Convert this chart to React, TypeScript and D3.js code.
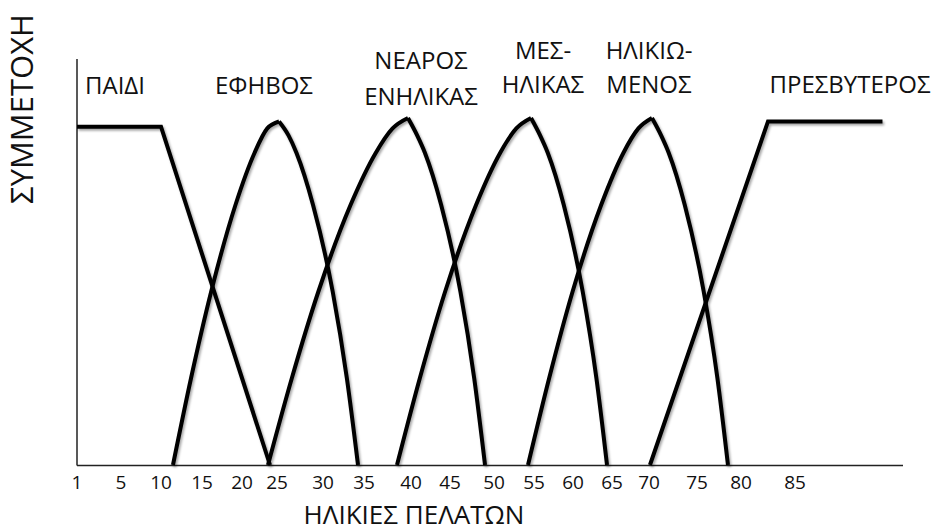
import React from 'react';
import * as d3 from 'd3';

// ---- data (age, membership) ----
const AGE_TICKS = [1, 5, 10, 15, 20, 25, 30, 35, 40, 45, 50, 55, 60, 65, 70, 75, 80, 85];
const Y_TITLE = 'ΣΥΜΜΕΤΟΧΗ';
const X_TITLE = 'ΗΛΙΚΙΕΣ ΠΕΛΑΤΩΝ';

const PAIDI: [number, number][] = [[1, 0.975], [10, 0.975], [24, 0]];
const EFIVOS: [number, number][] = [
  [11.46, 0], [13.66, 0.25], [16.15, 0.5], [19.19, 0.75], [21.8, 0.9], [23.61, 0.97], [25.22, 0.99],
  [26.25, 0.95], [27.11, 0.9], [28.91, 0.75], [31.18, 0.5], [32.91, 0.25], [34.27, 0],
];
const NEAROS: [number, number][] = [
  [23.71, 0], [26.61, 0.25], [29.5, 0.5], [33.37, 0.75], [36.26, 0.9], [38.04, 0.97], [39.68, 1.0],
  [40.79, 0.95], [41.78, 0.9], [43.86, 0.75], [46.18, 0.5], [47.75, 0.25], [48.98, 0],
];
const MESILIKAS: [number, number][] = [
  [38.51, 0], [41.13, 0.25], [44.38, 0.5], [47.97, 0.75], [50.78, 0.9], [52.79, 0.97], [54.63, 1.0],
  [55.78, 0.95], [56.76, 0.9], [58.81, 0.75], [61.24, 0.5], [63.0, 0.25], [64.36, 0],
];
const ILIKIOMENOS: [number, number][] = [
  [54.25, 0], [56.94, 0.25], [59.95, 0.5], [63.62, 0.75], [66.55, 0.9], [68.57, 0.97], [70.31, 1.0],
  [71.26, 0.95], [72.05, 0.9], [73.72, 0.75], [75.76, 0.5], [77.32, 0.25], [78.52, 0],
];
const PRESVYTEROS: [number, number][] = [[70.1, 0], [82.5, 0.99], [93.1, 0.99]];

const SERIES_NAMES = ['ΠΑΙΔΙ', 'ΕΦΗΒΟΣ', 'ΝΕΑΡΟΣ ΕΝΗΛΙΚΑΣ', 'ΜΕΣΗΛΙΚΑΣ', 'ΗΛΙΚΙΩΜΕΝΟΣ', 'ΠΡΕΣΒΥΤΕΡΟΣ'];
const SERIES_DATA = [PAIDI, EFIVOS, NEAROS, MESILIKAS, ILIKIOMENOS, PRESVYTEROS];
const SERIES_SMOOTH = [false, true, true, true, true, false];
const LABEL_LINES = [['ΠΑΙΔΙ'], ['ΕΦΗΒΟΣ'], ['ΝΕΑΡΟΣ', 'ΕΝΗΛΙΚΑΣ'], ['ΜΕΣ-', 'ΗΛΙΚΑΣ'], ['ΗΛΙΚΙΩ-', 'ΜΕΝΟΣ'], ['ΠΡΕΣΒΥΤΕΡΟΣ']];

// ---- layout ----
const W = 936;
const H = 532;
const TICK_X = [77, 121, 161, 202, 242, 277, 323, 364, 411, 450, 494, 534, 573, 612, 649, 697, 741, 795];
const LABEL_POS: [number, number, number][] = [
  [115, 94, 0], [264, 94, 0], [421, 69, 36], [543, 59, 34], [649, 59, 34], [850, 93, 0],
];
const FONT = "'Open Sans', 'DejaVu Sans', sans-serif";

export default function App() {
  const x = d3.scaleLinear().domain(AGE_TICKS).range(TICK_X);
  const y = d3.scaleLinear().domain([0, 1]).range([465, 118]);

  const line = d3.line<[number, number]>().x((d) => x(d[0])).y((d) => y(d[1]));
  const smoothLine = d3
    .line<[number, number]>()
    .x((d) => x(d[0]))
    .y((d) => y(d[1]))
    .curve(d3.curveMonotoneX);

  const paths: string[] = [];
  SERIES_DATA.forEach((pts, i) => {
    if (SERIES_SMOOTH[i]) {
      const peak = d3.maxIndex(pts, (d) => d[1]);
      paths.push(smoothLine(pts.slice(0, peak + 1)) as string);
      paths.push(smoothLine(pts.slice(peak)) as string);
    } else {
      paths.push(line(pts) as string);
    }
  });

  const x0 = x(1);
  const x1 = x(95);
  const yBase = y(0) + 0.5;
  const yTop = y(1.17);

  return (
    <svg
      width={W}
      height={H}
      style={{ position: 'absolute', left: 0, top: 0, background: '#fff' }}
      fontFamily={FONT}
    >
      <defs>
        <filter id="sh" x="-10%" y="-10%" width="120%" height="120%">
          <feDropShadow dx="1.5" dy="2" stdDeviation="1" floodColor="#000" floodOpacity="0.35" />
        </filter>
      </defs>
      <rect width={W} height={H} fill="#fff" />
      {/* axes */}
      <line x1={x0} y1={yBase} x2={x1} y2={yBase} stroke="#222" strokeWidth={1.5} />
      <line x1={x0} y1={yBase} x2={x0} y2={yTop} stroke="#222" strokeWidth={1.5} />
      {/* tick labels */}
      {AGE_TICKS.map((t) => (
        <text key={t} x={x(t)} y={489} textAnchor="middle" fontSize={19} fill="#111">
          {t}
        </text>
      ))}
      {/* curves */}
      <g filter="url(#sh)">
        {paths.map((p, i) => (
          <path
            key={i}
            d={p}
            fill="none"
            stroke="#000"
            strokeWidth={4}
            strokeLinejoin="miter"
            strokeLinecap="butt"
          />
        ))}
      </g>
      {/* category labels */}
      {LABEL_LINES.map((lines, i) => (
        <text key={SERIES_NAMES[i]} textAnchor="middle" fontSize={24} fill="#111">
          {lines.map((ln, j) => (
            <tspan key={j} x={LABEL_POS[i][0]} y={LABEL_POS[i][1] + j * LABEL_POS[i][2]}>
              {ln}
            </tspan>
          ))}
        </text>
      ))}
      {/* axis titles */}
      <text x={414} y={524} textAnchor="middle" fontSize={26} fill="#111">
        {X_TITLE}
      </text>
      <text transform="translate(33,109) rotate(-90)" textAnchor="middle" fontSize={31} fill="#111">
        {Y_TITLE}
      </text>
    </svg>
  );
}
